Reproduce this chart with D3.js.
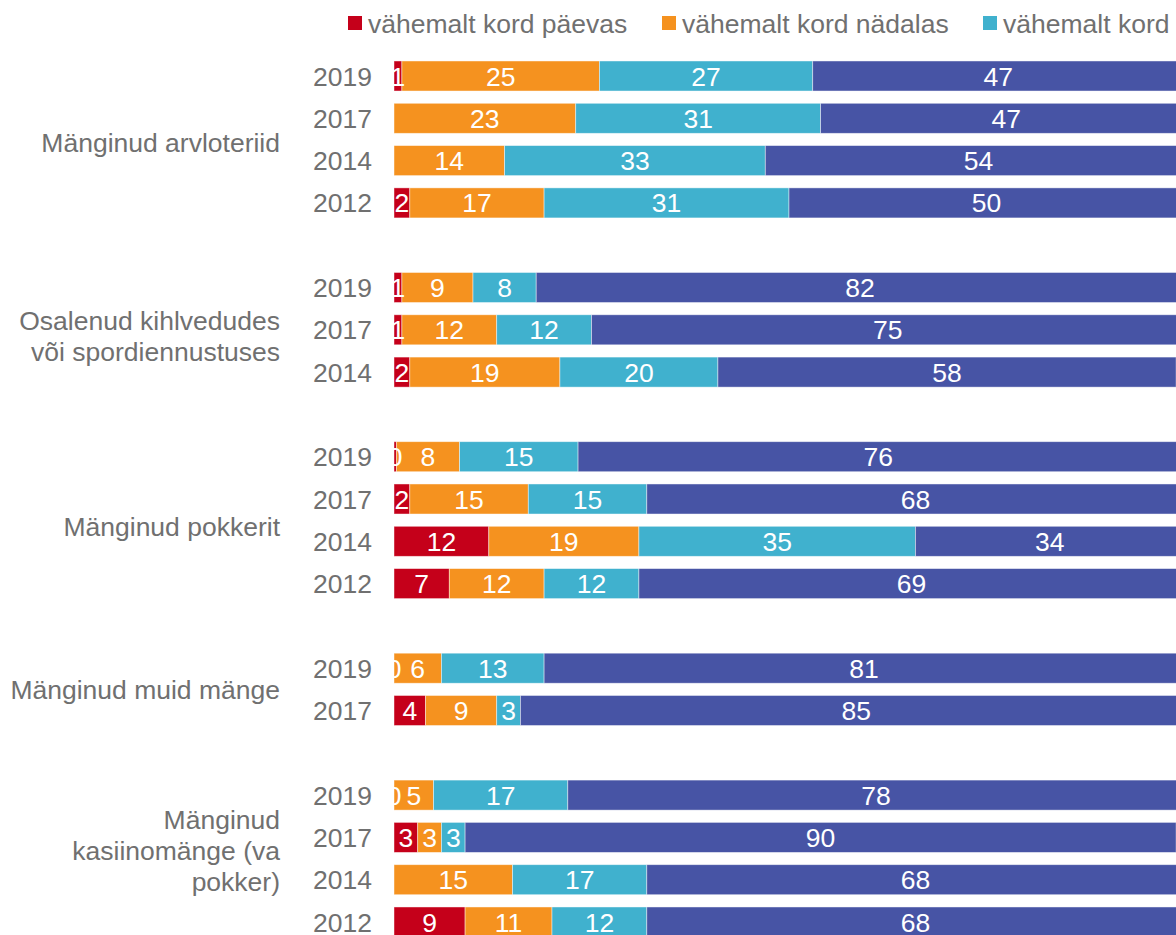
<!DOCTYPE html>
<html>
<head>
<meta charset="utf-8">
<script src="https://cdn.jsdelivr.net/npm/d3@7/dist/d3.min.js"></script>
<style>
  html, body { margin: 0; padding: 0; background: #fff; overflow: hidden; }
  svg { display: block; font-family: "Liberation Sans", Arial, sans-serif; }
</style>
</head>
<body>
<svg id="chart" width="1176" height="935"></svg>
<script>
// ---- data ----
const seriesNames = ["vähemalt kord päevas", "vähemalt kord nädalas", "vähemalt kord kuus", "harvem"];
const categoryLines = [
  ["Mänginud arvloteriid"],
  ["Osalenud kihlvedudes", "või spordiennustuses"],
  ["Mänginud pokkerit"],
  ["Mänginud muid mänge"],
  ["Mänginud", "kasiinomänge (va", "pokker)"]
];
const years = [
  ["2019", "2017", "2014", "2012"],
  ["2019", "2017", "2014"],
  ["2019", "2017", "2014", "2012"],
  ["2019", "2017"],
  ["2019", "2017", "2014", "2012"]
];
const daily   = [[1, null, null, 2], [1, 1, 2], [0.3, 2, 12, 7], [0, 4], [0, 3, null, 9]];
const weekly  = [[25, 23, 14, 17], [9, 12, 19], [8, 15, 19, 12], [6, 9], [5, 3, 15, 11]];
const monthly = [[27, 31, 33, 31], [8, 12, 20], [15, 15, 35, 12], [13, 3], [17, 3, 17, 12]];
const rarer   = [[47, 47, 54, 50], [82, 75, 58], [76, 68, 34, 69], [81, 85], [78, 90, 68, 68]];
const colors = ["#c5001a", "#f5921f", "#40b1ce", "#4754a5"];

// ---- build rows ----
const seriesData = [daily, weekly, monthly, rarer];
const slots = [];
const rows = [];
years.forEach((ys, g) => {
  if (g > 0) slots.push("gap" + g);
  ys.forEach((y, i) => {
    const key = g + "|" + y;
    slots.push(key);
    rows.push({ key, group: g, year: y, values: seriesData.map(s => s[g][i]) });
  });
});

const svg = d3.select("#chart");
const textColor = "#707070";
const fs = 26.5;

const x = d3.scaleLinear().domain([0, 100]).range([394, 1184]);
const step = 42.3;
const yScale = d3.scaleBand().domain(slots)
  .range([76 - step / 2, 76 - step / 2 + step * slots.length])
  .paddingInner(0.29).paddingOuter(0.145);

// bars
const gBars = svg.append("g");
rows.forEach(r => {
  let acc = 0;
  r.values.forEach((v, si) => {
    if (v === null) return;
    const x0 = acc, x1 = acc + v;
    acc = x1;
    r["seg" + si] = [x0, x1];
    if (v > 0) {
      gBars.append("rect")
        .attr("x", x(x0)).attr("width", x(x1) - x(x0))
        .attr("y", yScale(r.key)).attr("height", yScale.bandwidth())
        .attr("fill", colors[si])
        .attr("stroke", "#ffffff").attr("stroke-opacity", 0.55).attr("stroke-width", 0.8);
    }
  });
});

// value labels
const gLab = svg.append("g");
rows.forEach(r => {
  r.values.forEach((v, si) => {
    if (v === null) return;
    const [x0, x1] = r["seg" + si];
    gLab.append("text")
      .attr("x", x((x0 + x1) / 2))
      .attr("y", yScale(r.key) + yScale.bandwidth() / 2)
      .attr("dy", "0.36em")
      .attr("text-anchor", "middle")
      .attr("fill", "#ffffff")
      .attr("font-size", fs)
      .text(Math.round(v));
  });
});

// year labels
const yAxis = d3.axisLeft(yScale).tickSize(0).tickPadding(0)
  .tickFormat(k => k.startsWith("gap") ? "" : k.split("|")[1]);
const gAxis = svg.append("g").attr("transform", "translate(372,0)").call(yAxis);
gAxis.select(".domain").remove();
gAxis.selectAll("text").attr("fill", textColor).attr("font-size", fs)
  .attr("font-family", "Liberation Sans, Arial, sans-serif").attr("dy", "0.36em");

// category labels
const lineH = 31;
const labelShift = [3, 6.5, 6, 0, -8];
categoryLines.forEach((lines, g) => {
  const keys = rows.filter(r => r.group === g).map(r => r.key);
  const c = (yScale(keys[0]) + yScale(keys[keys.length - 1]) + yScale.bandwidth()) / 2;
  const t = svg.append("text")
    .attr("text-anchor", "end").attr("fill", textColor).attr("font-size", fs);
  lines.forEach((ln, i) => {
    t.append("tspan").attr("x", 280)
      .attr("y", c + (i - (lines.length - 1) / 2) * lineH + labelShift[g])
      .attr("dy", "0.36em").text(ln);
  });
});

// legend
const legendX = [348, 662, 983, 1290];
const gLeg = svg.append("g");
seriesNames.forEach((n, i) => {
  gLeg.append("rect").attr("x", legendX[i]).attr("y", 16).attr("width", 14).attr("height", 14)
    .attr("fill", colors[i]);
  gLeg.append("text").attr("x", legendX[i] + 20).attr("y", 23).attr("dy", "0.36em")
    .attr("fill", textColor).attr("font-size", fs).text(n);
});
</script>
</body>
</html>
